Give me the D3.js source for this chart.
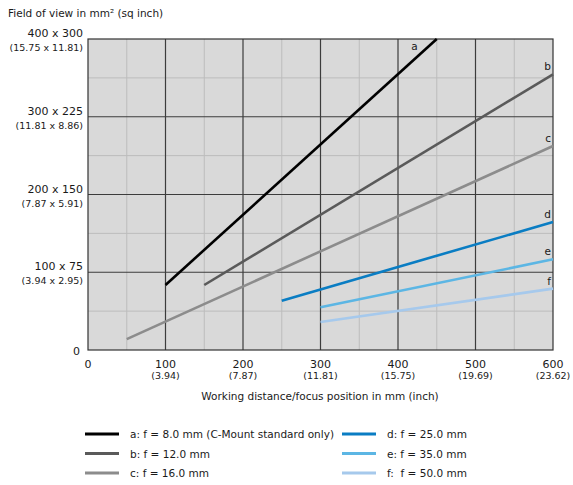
<!DOCTYPE html>
<html>
<head>
<meta charset="utf-8">
<script src="https://cdn.jsdelivr.net/npm/d3@7"></script>
<style>
  body { margin: 0; background: #fff; }
  text { font-family: "DejaVu Sans", sans-serif; fill: #1a1a1a; white-space: pre; }
</style>
</head>
<body>
<svg id="chart" width="573" height="485"></svg>
<script>
// data
const seriesKeys = ["a", "b", "c", "d", "e", "f"];
const seriesNames = [
  "a: f = 8.0 mm (C-Mount standard only)",
  "b: f = 12.0 mm",
  "c: f = 16.0 mm",
  "d: f = 25.0 mm",
  "e: f = 35.0 mm",
  "f:  f = 50.0 mm"
];
const seriesColors = ["#000000", "#5a5a5a", "#8c8c8c", "#0a7dc3", "#5cb6e4", "#a6c9ec"];
const seriesDist = [[100, 450], [150, 600], [50, 600], [250, 600], [300, 600], [300, 600]];
const seriesField = [[83.6, 400], [83.6, 354.6], [14, 262.4], [63.4, 164.6], [54.9, 116.6], [36, 78.9]];

const xTicks = [0, 100, 200, 300, 400, 500, 600];
const xSubLabels = ["", "(3.94)", "(7.87)", "(11.81)", "(15.75)", "(19.69)", "(23.62)"];
const yTicks = [0, 100, 200, 300, 400];
const yLabels = ["0", "100 x 75", "200 x 150", "300 x 225", "400 x 300"];
const ySubLabels = ["", "(3.94 x 2.95)", "(7.87 x 5.91)", "(11.81 x 8.86)", "(15.75 x 11.81)"];

const svg = d3.select("#chart");
const m = {left: 88, top: 39, right: 553, bottom: 350};

const x = d3.scaleLinear().domain([0, 600]).range([m.left, m.right]);
const y = d3.scaleLinear().domain([0, 400]).range([m.bottom, m.top]);

// plot background
svg.append("rect")
  .attr("x", m.left).attr("y", m.top)
  .attr("width", m.right - m.left).attr("height", m.bottom - m.top)
  .attr("fill", "#d9d9d9");

// minor grid every 50
const minor = d3.range(50, 600, 100);
const minorY = d3.range(50, 400, 100);
svg.append("g").selectAll("line").data(minor).join("line")
  .attr("x1", d => x(d)).attr("x2", d => x(d))
  .attr("y1", m.top).attr("y2", m.bottom)
  .attr("stroke", "#bcbcbc").attr("stroke-width", 1);
svg.append("g").selectAll("line").data(minorY).join("line")
  .attr("y1", d => y(d)).attr("y2", d => y(d))
  .attr("x1", m.left).attr("x2", m.right)
  .attr("stroke", "#bcbcbc").attr("stroke-width", 1);

// major grid every 100
svg.append("g").selectAll("line").data(xTicks.slice(1, -1)).join("line")
  .attr("x1", d => x(d)).attr("x2", d => x(d))
  .attr("y1", m.top).attr("y2", m.bottom)
  .attr("stroke", "#3c3c3c").attr("stroke-width", 1.2);
svg.append("g").selectAll("line").data(yTicks.slice(1, -1)).join("line")
  .attr("y1", d => y(d)).attr("y2", d => y(d))
  .attr("x1", m.left).attr("x2", m.right)
  .attr("stroke", "#3c3c3c").attr("stroke-width", 1.2);

// frame
svg.append("rect")
  .attr("x", m.left).attr("y", m.top)
  .attr("width", m.right - m.left).attr("height", m.bottom - m.top)
  .attr("fill", "none").attr("stroke", "#333").attr("stroke-width", 1.2);

// series
const line = d3.line().x(d => x(d[0])).y(d => y(d[1]));
seriesKeys.forEach((k, i) => {
  const pts = d3.zip(seriesDist[i], seriesField[i]);
  svg.append("path")
    .attr("d", line(pts))
    .attr("fill", "none")
    .attr("stroke", seriesColors[i])
    .attr("stroke-width", 2.6);
  const end = pts[pts.length - 1];
  // 'a' ends at the top border, others at the right border
  const lx = k === "a" ? x(end[0]) - 19 : x(end[0]) - 2;
  const ly = k === "a" ? y(end[1]) + 11 : y(end[1]) - 4;
  svg.append("text")
    .attr("x", lx).attr("y", ly)
    .attr("text-anchor", "end")
    .attr("font-size", 10.5)
    .attr("fill", "#333")
    .text(k);
});

// y axis labels
const yl = svg.append("g");
yTicks.forEach((t, i) => {
  if (t === 0) {
    yl.append("text").attr("x", 80).attr("y", y(t) + 5)
      .attr("text-anchor", "end").attr("font-size", 11).text(yLabels[i]);
    return;
  }
  yl.append("text").attr("x", 83).attr("y", y(t) - 2)
    .attr("text-anchor", "end").attr("font-size", 11).text(yLabels[i]);
  yl.append("text").attr("x", 83).attr("y", y(t) + 12)
    .attr("text-anchor", "end").attr("font-size", 9.5).text(ySubLabels[i]);
});

// x axis labels
const xl = svg.append("g");
xTicks.forEach((t, i) => {
  xl.append("text").attr("x", x(t)).attr("y", 368)
    .attr("text-anchor", "middle").attr("font-size", 11).text(t);
  if (xSubLabels[i]) {
    xl.append("text").attr("x", x(t)).attr("y", 379)
      .attr("text-anchor", "middle").attr("font-size", 9.5).text(xSubLabels[i]);
  }
});

svg.append("text").attr("x", 320).attr("y", 400)
  .attr("text-anchor", "middle").attr("font-size", 10.5)
  .text("Working distance/focus position in mm (inch)");

svg.append("text").attr("x", 8).attr("y", 17)
  .attr("font-size", 10.5).text("Field of view in mm² (sq inch)");

// legend, two columns of three
const leg = svg.append("g");
seriesNames.forEach((name, i) => {
  const col = Math.floor(i / 3), row = i % 3;
  const lx = col === 0 ? 85 : 342;
  const ly = 434 + row * 19.5;
  leg.append("line")
    .attr("x1", lx).attr("x2", lx + 34)
    .attr("y1", ly).attr("y2", ly)
    .attr("stroke", seriesColors[i]).attr("stroke-width", 3);
  leg.append("text")
    .attr("x", lx + 45).attr("y", ly + 4)
    .attr("font-size", 10.5)
    .text(name);
});
</script>
</body>
</html>
